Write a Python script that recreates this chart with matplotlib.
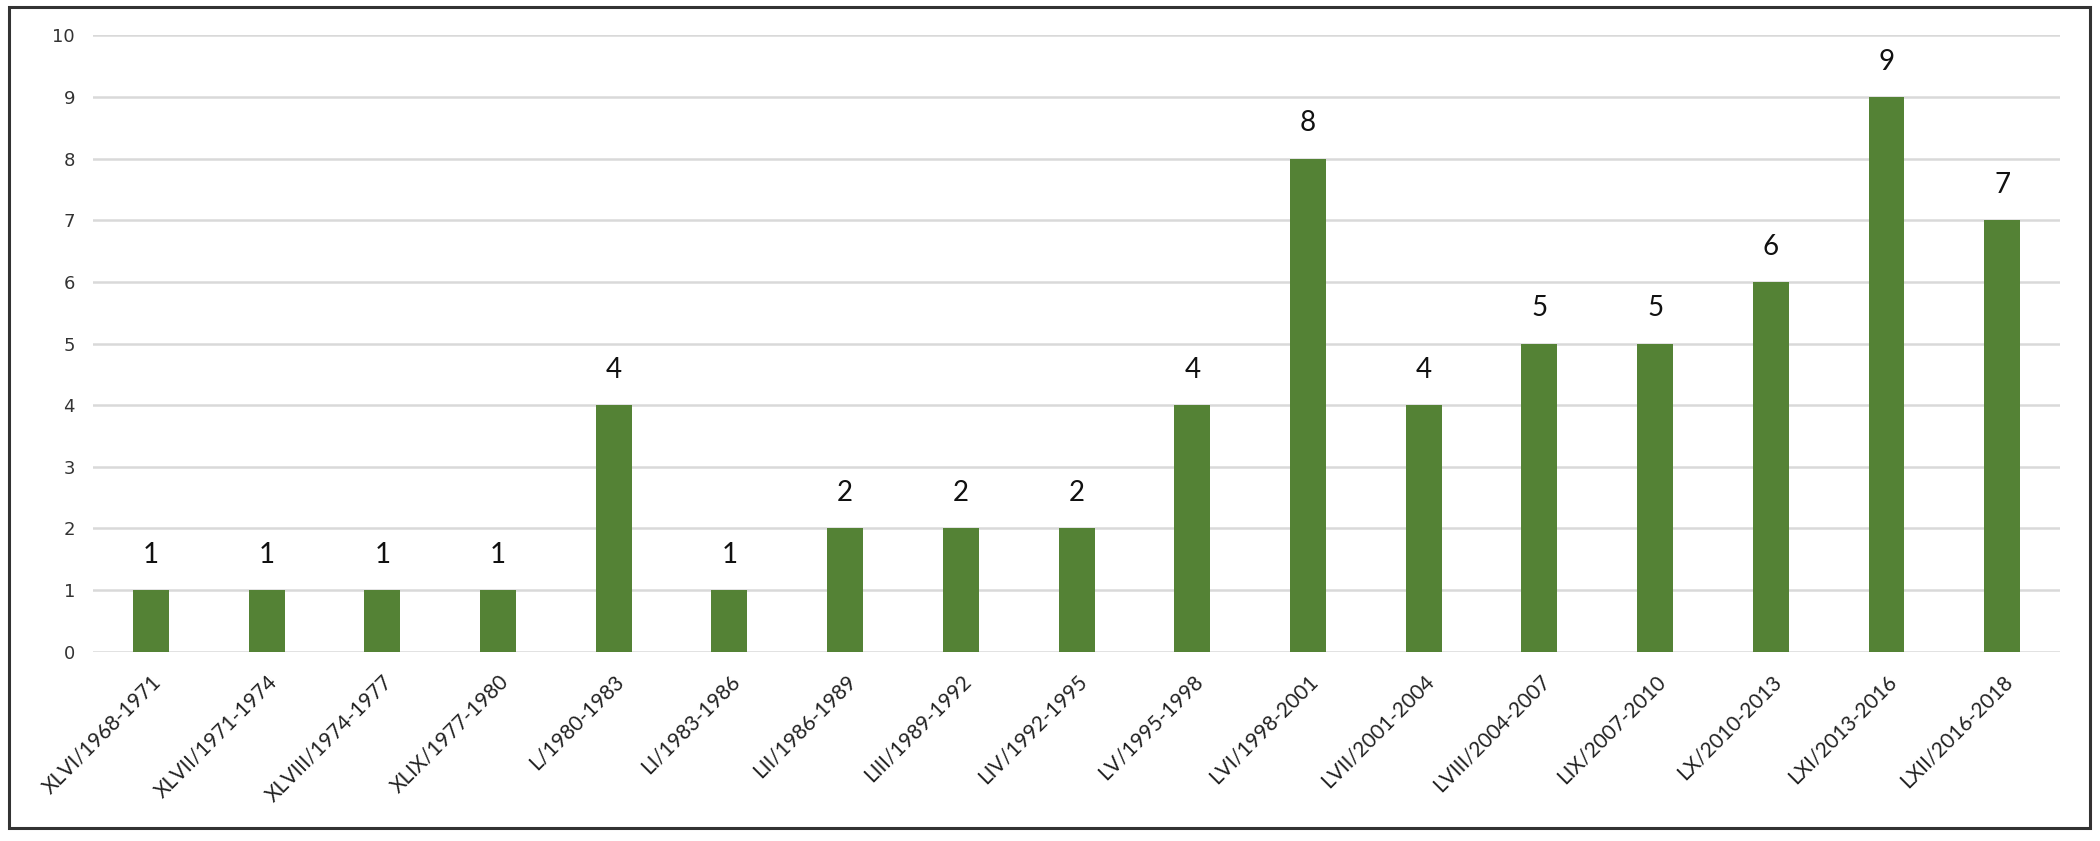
import matplotlib.pyplot as plt
from matplotlib.patches import Rectangle

terms = ['XLVI/1968-1971', 'XLVII/1971-1974', 'XLVIII/1974-1977', 'XLIX/1977-1980',
         'L/1980-1983', 'LI/1983-1986', 'LII/1986-1989', 'LIII/1989-1992',
         'LIV/1992-1995', 'LV/1995-1998', 'LVI/1998-2001', 'LVII/2001-2004',
         'LVIII/2004-2007', 'LIX/2007-2010', 'LX/2010-2013', 'LXI/2013-2016',
         'LXII/2016-2018']
counts = [1, 1, 1, 1, 4, 1, 2, 2, 2, 4, 8, 4, 5, 5, 6, 9, 7]

BAR_COLOR = '#548235'
GRID_COLOR = '#d9d9d9'

plt.rcParams['font.family'] = ['Lato', 'DejaVu Sans']

fig = plt.figure(figsize=(21, 8.41), dpi=100)
ax = fig.add_axes([0.0443, 0.225, 0.9367, 0.733])

x = list(range(len(terms)))
bars = ax.bar(x, counts, width=0.31, color=BAR_COLOR, zorder=3)
for rect, v in zip(bars, counts):
    ax.annotate(str(v), (rect.get_x() + rect.get_width() / 2, v),
                xytext=(0, 16), textcoords='offset points',
                ha='center', va='bottom', fontsize=20, color='#111111')

ax.set_xlim(-0.5, len(terms) - 0.5)
ax.set_ylim(0, 10)
ax.set_yticks(range(0, 11))
ax.yaxis.grid(True, color=GRID_COLOR, linewidth=1.8, zorder=0)
ax.set_axisbelow(True)
for s in ax.spines.values():
    s.set_visible(False)

ax.tick_params(axis='y', length=0, pad=13, labelcolor='#333333')
for lbl in ax.get_yticklabels():
    lbl.set_family('DejaVu Sans')
    lbl.set_fontsize(13)
ax.tick_params(axis='x', length=0, pad=14)
ax.set_xticks(x)
ax.set_xticklabels(terms, rotation=45, ha='right', rotation_mode='anchor',
                   fontsize=15, color='#222222')

# frame around the whole picture
fig.patches.append(Rectangle((0.0043, 0.016), 0.991, 0.9757, transform=fig.transFigure,
                             fill=False, edgecolor='#333333', linewidth=2.2))

plt.savefig('out.png', dpi=100)
